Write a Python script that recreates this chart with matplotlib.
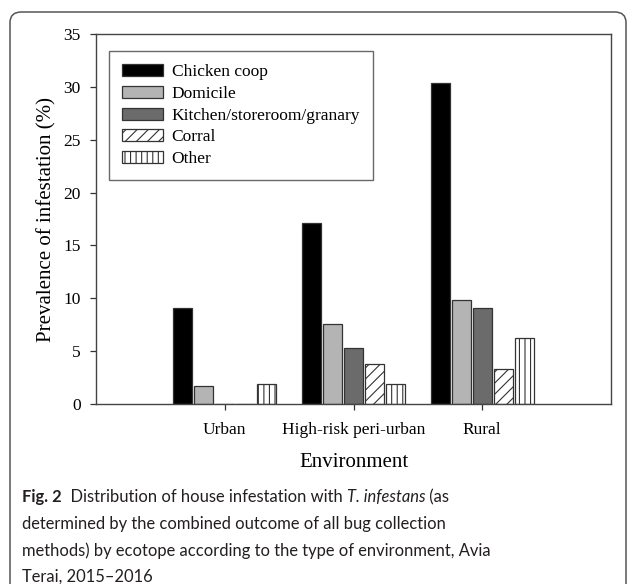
import matplotlib
matplotlib.use("Agg")
import matplotlib.pyplot as plt
import numpy as np
from matplotlib.patches import FancyBboxPatch

# data
environments = ['Urban', 'High-risk peri-urban', 'Rural']
ecotopes = ['Chicken coop', 'Domicile', 'Kitchen/storeroom/granary', 'Corral', 'Other']
chicken_coop = [9.1, 17.1, 30.4]
domicile = [1.7, 7.6, 9.8]
kitchen = [0.0, 5.3, 9.1]
corral = [0.0, 3.8, 3.3]
other = [1.9, 1.9, 6.2]
series = [chicken_coop, domicile, kitchen, corral, other]

fills = ['#000000', '#b4b4b4', '#6b6b6b', 'white', 'white']
hatches = [None, None, None, '///', '|||']

plt.rcParams['hatch.linewidth'] = 0.8
plt.rcParams['hatch.color'] = '#222222'

fig = plt.figure(figsize=(6.27, 5.84), dpi=100)

# rounded frame around figure + caption
frame = FancyBboxPatch((10 / 627, -0.2), 616 / 627, 1.2 - 12 / 584,
                       boxstyle='round,pad=0,rounding_size=0.018',
                       transform=fig.transFigure, fill=False,
                       edgecolor='#555555', linewidth=1.1)
fig.patches.append(frame)

ax = fig.add_axes([96 / 627, 1 - 404 / 584, 515 / 627, 370 / 584])

x = np.arange(len(environments))
step = 0.163
width = 0.15
for i, (vals, name) in enumerate(zip(series, ecotopes)):
    pos = x + (i - 2) * step
    ax.bar(pos, vals, width, color=fills[i], edgecolor='#333333',
           linewidth=0.9, hatch=hatches[i], label=name)

ax.set_xlim(-1, 3)
ax.set_ylim(0, 35)
ax.set_xticks(x)
ax.set_xticklabels(environments)
ax.set_yticks(np.arange(0, 36, 5))

serif = 'Liberation Serif'
for lab in ax.get_xticklabels() + ax.get_yticklabels():
    lab.set_fontfamily(serif)
    lab.set_fontsize(12.5)

ax.tick_params(axis='y', direction='out', length=4.5, width=0.9, pad=6.5, colors='#333333', labelcolor='black')
ax.tick_params(axis='x', direction='out', length=4, width=0.9, pad=9, colors='#333333', labelcolor='black')
for s in ax.spines.values():
    s.set_color('#444444')
    s.set_linewidth(1.0)

ax.set_ylabel('Prevalence of infestation (%)', fontfamily=serif, fontsize=15, labelpad=5)
ax.set_xlabel('Environment', fontfamily=serif, fontsize=15, labelpad=11)

leg = ax.legend(loc='upper left', bbox_to_anchor=(13 / 515, 1 - 17 / 370),
                prop={'family': serif, 'size': 12.5}, frameon=True, fancybox=False,
                edgecolor='#444444', handlelength=2.35, handleheight=0.68,
                labelspacing=0.33, handletextpad=0.5, borderpad=0.75,
                borderaxespad=0)
leg.get_frame().set_linewidth(1.0)

# caption, mixed styles
cap_font = 'Lato'
cap_size = 11.9
renderer = fig.canvas.get_renderer()


def draw_line(parts, x0, y0):
    xx = x0
    for txt, weight, style in parts:
        t = fig.text(xx, y0, txt, fontfamily=cap_font, fontsize=cap_size,
                     fontweight=weight, fontstyle=style, color='#231f20',
                     va='baseline', ha='left')
        bb = t.get_window_extent(renderer=renderer)
        xx += bb.width / fig.bbox.width


x0 = 22 / 627
draw_line([('Fig. 2', 'bold', 'normal'),
           ('  Distribution of house infestation with ', 'normal', 'normal'),
           ('T. infestans', 'normal', 'italic'),
           (' (as', 'normal', 'normal')], x0, 1 - 502 / 584)
draw_line([('determined by the combined outcome of all bug collection', 'normal', 'normal')],
          x0, 1 - 529 / 584)
draw_line([('methods) by ecotope according to the type of environment, Avia', 'normal', 'normal')],
          x0, 1 - 556 / 584)
draw_line([('Terai, 2015\u20132016', 'normal', 'normal')], x0, 1 - 582 / 584)

fig.savefig('out.png', dpi=100)
